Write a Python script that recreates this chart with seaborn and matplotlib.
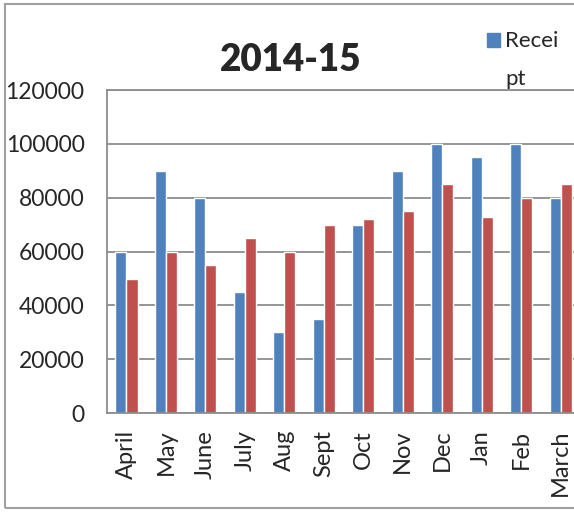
import matplotlib.pyplot as plt
import matplotlib.patches as mpatches
import pandas as pd
import seaborn as sns

# Data
months = ['April', 'May', 'June', 'July', 'Aug', 'Sept', 'Oct', 'Nov', 'Dec', 'Jan', 'Feb', 'March']
receipt = [60000, 90000, 80000, 45000, 30000, 35000, 70000, 90000, 100000, 95000, 100000, 80000]
payment = [50000, 60000, 55000, 65000, 60000, 70000, 72000, 75000, 85000, 73000, 80000, 85000]
y_ticks = [0, 20000, 40000, 60000, 80000, 100000, 120000]

df = pd.DataFrame({'Month': months * 2,
                   'Amount': receipt + payment,
                   'Series': ['Receipt'] * len(months) + ['Payment'] * len(months)})

sns.set_style('white')
plt.rcParams['font.family'] = ['Lato', 'DejaVu Sans']

fig = plt.figure(figsize=(5.74, 5.12), dpi=100)
ax = fig.add_axes([0.186, 0.193, 0.825, 0.631])

sns.barplot(data=df, x='Month', y='Amount', hue='Series', order=months,
            palette={'Receipt': '#4F81BD', 'Payment': '#C0504D'},
            width=0.56, saturation=1, ax=ax, legend=False)

ax.set_ylim(0, 120000)
ax.set_yticks(y_ticks)
ax.set_yticklabels([str(v) for v in y_ticks], fontsize=16.5)
ax.yaxis.grid(True, color='#8c8c8c', linewidth=1.3)
ax.set_axisbelow(True)
ax.tick_params(axis='x', labelrotation=90, labelsize=17, length=0, pad=12)
ax.tick_params(axis='y', length=0, pad=16)
ax.set_xlabel('')
ax.set_ylabel('')
for s in ax.spines.values():
    s.set_color('#8c8c8c')
    s.set_linewidth(1.3)

fig.text(0.507, 0.883, '2014-15', fontsize=26.5, fontweight='heavy', ha='center', va='center')

# legend (only the visible entry)
fig.patches.append(mpatches.Rectangle((0.849, 0.908), 0.022, 0.027, color='#4F81BD',
                                      transform=fig.transFigure, figure=fig))
fig.text(0.88, 0.92, 'Recei', fontsize=16, ha='left', va='center')
fig.text(0.88, 0.845, 'pt', fontsize=16, ha='left', va='center')

# outer chart border
fig.patches.append(mpatches.Rectangle((0.009, 0.008), 1.1, 0.985, fill=False,
                                      edgecolor='#a0a0a0', linewidth=1.5,
                                      transform=fig.transFigure, figure=fig))

fig.savefig('out.png', dpi=100)
